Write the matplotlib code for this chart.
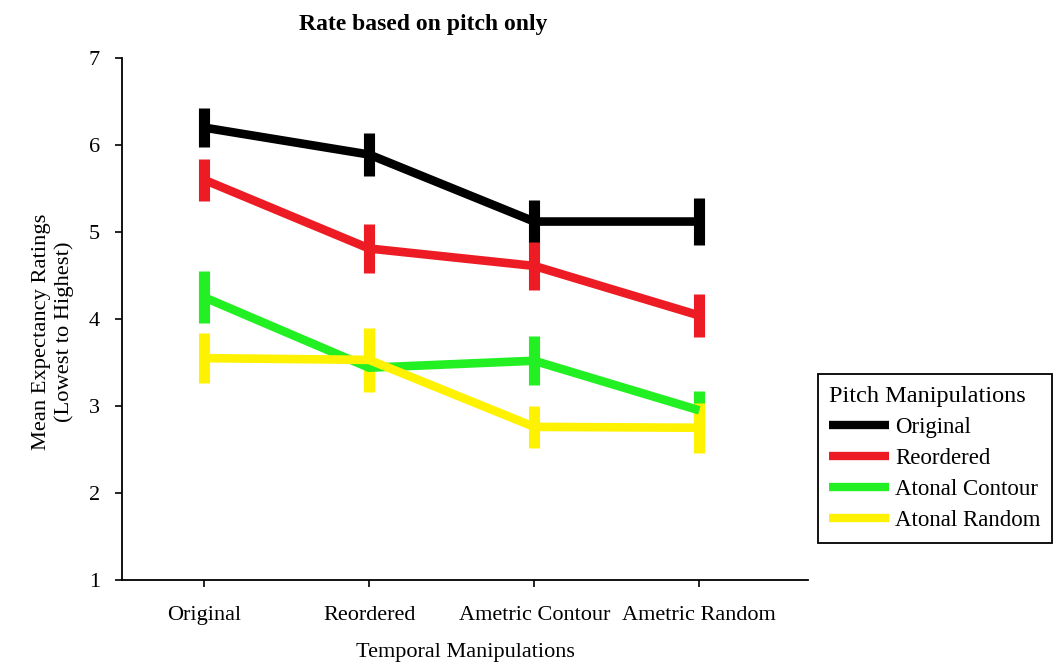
import numpy as np
import matplotlib
matplotlib.use("Agg")
import matplotlib.pyplot as plt
from matplotlib.lines import Line2D

# temporal manipulations on x, pitch manipulations as series
temporal = ["Original", "Reordered", "Ametric Contour", "Ametric Random"]
pitch = ["Original", "Reordered", "Atonal Contour", "Atonal Random"]

mean_original = [6.20, 5.89, 5.12, 5.12]
mean_reordered = [5.60, 4.81, 4.61, 4.04]
mean_contour = [4.25, 3.44, 3.52, 2.95]
mean_random = [3.55, 3.53, 2.76, 2.75]

err_original = [0.22, 0.25, 0.25, 0.27]
err_reordered = [0.24, 0.28, 0.28, 0.25]
err_contour = [0.30, 0.25, 0.28, 0.22]
err_random = [0.29, 0.37, 0.24, 0.29]

colors = ["#000000", "#ED1C24", "#22F022", "#FFF200"]

plt.rcParams["font.family"] = ["Liberation Serif", "DejaVu Serif"]

fig = plt.figure(figsize=(10.59, 6.64), dpi=100)
ax = fig.add_axes([0.1152, 0.1265, 0.648, 0.7862])

x = np.arange(len(temporal))
means = [mean_original, mean_reordered, mean_contour, mean_random]
errs = [err_original, err_reordered, err_contour, err_random]
handles = []
for m, e, c, lab in zip(means, errs, colors, pitch):
    ax.errorbar(x, m, yerr=e, color=c, lw=6.2, elinewidth=8, capsize=0,
                solid_capstyle="butt")
    handles.append(Line2D([], [], color=c, lw=6, solid_capstyle="butt", label=lab))

ax.set_xlim(-0.497, 3.66)
ax.set_ylim(1, 7)
ax.set_yticks(range(1, 8))
ax.set_xticks(x)
ax.set_xticklabels(temporal, fontsize=16)
ax.tick_params(axis="y", labelsize=16, length=5, width=1.2, pad=11)
ax.tick_params(axis="x", length=5, width=1.2, pad=14)
for s in ["top", "right"]:
    ax.spines[s].set_visible(False)
for s in ["left", "bottom"]:
    ax.spines[s].set_linewidth(1.3)

ax.set_xlabel("Temporal Manipulations", fontsize=16, labelpad=13)
fig.text(0.050, 0.50, "Mean Expectancy Ratings\n(Lowest to Highest)", rotation=90,
         ha="center", va="center", fontsize=16.2, linespacing=1.25)
fig.text(0.40, 0.963, "Rate based on pitch only", ha="center", va="center",
         fontsize=17, fontweight="bold")

leg = fig.legend(handles=handles, loc="upper left", bbox_to_anchor=(0.772, 0.436),
                 title="Pitch Manipulations", fontsize=16.5, title_fontsize=17.5,
                 fancybox=False, edgecolor="black", framealpha=1,
                 handlelength=2.6, handletextpad=0.3, labelspacing=0.44,
                 borderpad=0.5, alignment="left", borderaxespad=0)
leg.get_frame().set_linewidth(1.3)

fig.savefig("out.png", dpi=100)
